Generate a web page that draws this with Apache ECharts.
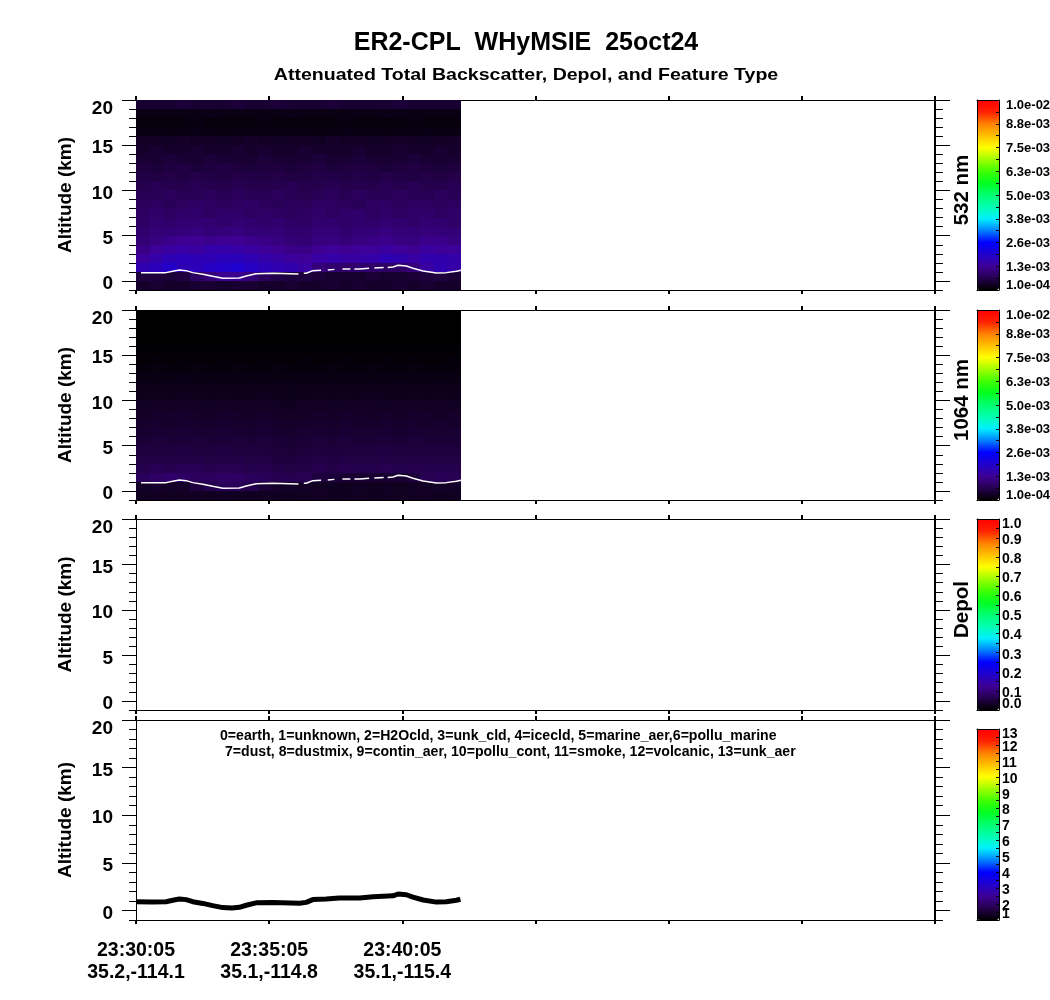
<!DOCTYPE html>
<html><head><meta charset="utf-8">
<style>html,body{margin:0;padding:0;background:#fff}#c{width:1050px;height:1000px}</style>
<script src="https://cdn.jsdelivr.net/npm/echarts@6/dist/echarts.min.js"></script>
</head><body><div id="c"></div>
<script>
// ---- Attenuated backscatter, block averages (units of 1e-4), 24 time columns, top row first
const b532_19_20=[5,5,5,5.5,5,5,5,5.5,5,5,5.5,5,5,5,5.5,5,5,5,5,5.5,5,5,5,5];
const b532_18_19=[2.6,2.6,2.5,2.6,2.5,2.8,2.6,2.5,2.6,2.5,2.6,2.8,2.5,2.6,2.5,2.6,2.5,2.6,2.8,2.5,2.6,2.5,2.6,2.5];
const b532_17_18=[2,2,2,2,2.3,2,2,2,2,2.3,2,2,2,2,2,2.3,2,2,2,2,2.3,2,2,2];
const b532_16_17=[2.6,2.6,2.4,2.6,2.7,2.6,2.4,2.6,2.6,2.7,2.6,2.6,2.6,2.4,2.6,2.7,2.6,2.6,2.4,2.6,2.6,2.7,2.6,2.6];
const b532_15_16=[3.8,3.8,3.6,4.2,3.8,3.8,3.6,3.8,4.2,3.8,3.6,3.8,3.8,3.6,4.2,3.8,3.8,3.6,3.8,4.2,3.8,3.6,3.8,4.2];
const b532_14_15=[4.5,5,4.5,4.5,5,4.5,4.5,5,4.5,5,4.5,4.5,5,4.5,4.5,4.5,5,4.5,4.5,5,4.5,4.5,5,4.5];
const b532_13_14=[5,5,5.6,5,5,5.6,5,5,5,5.6,5,5,5,5.6,5,5,5.6,5,5,5,5.6,5,5,5];
const b532_12_13=[6,5.6,6,6.2,5.6,6,6.2,6,5.6,6,6,5.6,6,6.2,5.6,6,6.2,6,5.6,6,6.2,6,5.6,6];
const b532_11_12=[6.6,6.2,6.8,6.2,6.8,6.6,6.2,6.8,6.6,6.2,6.8,6.2,6.2,6.8,6.6,6.2,6.8,6.2,6.8,6.6,6.2,6.8,6.2,6.8];
const b532_10_11=[7,7.6,7,7,7.6,7,7,7.6,7,7,7,7.6,7,7,7.6,7,7,7,7.6,7,7.6,7,7,7.6];
const b532_9_10=[7.6,7.8,8.4,7.6,7.8,8.4,7.6,8.4,7.8,7.6,8.4,7.6,7.4,7.8,8.4,7.6,8.4,7.8,7.6,8.4,7.8,7.6,8.4,7.8];
const b532_8_9=[8.4,8.6,8,8.6,9.2,8.6,8.4,8.6,9.2,8.4,8,8.4,8.2,9,8.6,8.4,8,8.6,9.2,8.4,8.6,8.6,8.4,8.6];
const b532_7_8=[8.8,9.4,8.8,9.6,9.6,8.8,9.4,9.6,8.8,9.4,8.8,8.4,8.8,9.4,8.8,9.4,9.6,8.8,9.4,8.8,9.4,9.6,8.8,9.4];
const b532_6_7=[9.2,10,9.6,10.2,10.2,10.2,9.6,10.2,10,9.4,10,9.2,9.2,10,10,9.4,10,9.6,10.2,10,9.4,10.2,10,9.4];
const b532_5_6=[9.8,10.6,10.8,11,11.4,10.8,11,11.4,10.8,10.6,10.6,9.8,9.8,10.6,10.8,10,10.6,10.8,11.4,10.6,10.8,11,10.8,10.6];
const b532_4_5=[10.6,11.4,12.4,13,13,12.4,13,13,12.4,12,11.4,10.6,10.4,11.4,11.4,10.6,11.4,12,12.4,11.6,11.4,12.4,12.4,11.6];
const b532_3_4=[12,13.6,14.4,15,14.4,15.6,15.6,15,14.4,13.6,13,12,11.8,13,13.6,13,13.6,13.6,14.4,13.6,13,14.4,13.6,13.6];
const b532_2_3=[14,15.4,16.8,17.4,16.8,16.8,17.4,17.4,16.8,15.4,14.8,14,13.6,14.8,15.4,14.8,14.8,15.4,16.8,16,14.8,16,16,15.4];
const b532_1_2=[16.4,17.6,19,16.6,17,18.4,19,19.6,18.4,17,16.4,16,14.6,11,10,9.4,10,9.4,9,9.4,11,14.6,16.4,15.2];
const b532_0_1=[6,6,5.4,6,9,11,12.6,12.6,11,8.4,6.6,6,6,5.4,4.6,4.6,4.6,5.4,4.6,4.6,5.4,6,6,5.4];
const b532_m1_0=[4.4,5,4.4,4.4,5,5,4.4,5,5,4.4,4.4,5,4.4,4.4,5,4.4,5,4.4,4.4,5,4.4,5,4.4,4.4];
const rows532=[b532_m1_0,b532_0_1,b532_1_2,b532_2_3,b532_3_4,b532_4_5,b532_5_6,b532_6_7,b532_7_8,b532_8_9,b532_9_10,b532_10_11,b532_11_12,b532_12_13,b532_13_14,b532_14_15,b532_15_16,b532_16_17,b532_17_18,b532_18_19,b532_19_20];

const b1064_19_20=[1,1,1,1,1,1,1,1,1,1,1,1,1,1,1,1,1,1,1,1,1,1,1,1];
const b1064_18_19=[1,1,1,1,1,1,1,1,1,1,1,1,1,1,1,1,1,1,1,1,1,1,1,1];
const b1064_17_18=[1,1,1,1,1,1,1,1,1,1,1,1,1,1,1,1,1,1,1,1,1,1,1,1];
const b1064_16_17=[1,1,1,1,1,1,1,1,1,1,1,1,1,1,1,1,1,1,1,1,1,1,1,1];
const b1064_15_16=[1.3,1.3,1.4,1.3,1.3,1.4,1.3,1.3,1.3,1.4,1.3,1.3,1.3,1.3,1.4,1.3,1.3,1.3,1.4,1.3,1.3,1.3,1.4,1.3];
const b1064_14_15=[1.6,1.7,1.6,1.7,1.6,1.6,1.7,1.6,1.6,1.7,1.6,1.6,1.7,1.6,1.6,1.7,1.6,1.6,1.7,1.6,1.7,1.6,1.6,1.7];
const b1064_13_14=[2,2.2,2,2,2.2,2,2,2.2,2,2,2.2,2,2,2,2.2,2,2,2.2,2,2,2.2,2,2,2];
const b1064_12_13=[2.4,2.6,2.4,2.7,2.5,2.4,2.6,2.5,2.4,2.6,2.4,2.4,2.5,2.6,2.4,2.5,2.6,2.4,2.5,2.4,2.6,2.5,2.4,2.6];
const b1064_11_12=[2.8,3,2.8,3,3,2.8,3,2.9,2.8,3,2.8,2.8,3,2.8,2.9,3,2.8,3,2.9,2.8,3,3,2.8,3];
const b1064_10_11=[3.2,3.4,3.3,3.5,3.4,3.2,3.4,3.3,3.3,3.5,3.2,3.1,3.3,3.4,3.2,3.4,3.3,3.5,3.3,3.2,3.4,3.3,3.4,3.2];
const b1064_9_10=[3.6,3.9,3.7,3.9,3.8,3.6,3.9,3.7,3.7,3.9,3.6,3.5,3.8,3.7,3.6,3.8,3.9,3.7,3.6,3.8,3.9,3.7,3.8,3.6];
const b1064_8_9=[4,4.3,4.2,4.4,4.2,4,4.3,4.2,4,4.3,4,3.9,4.1,4.2,4,4.3,4.2,4,4.3,4.1,4.3,4.2,4,4.2];
const b1064_7_8=[4.4,4.7,4.5,4.8,4.6,4.5,4.7,4.6,4.4,4.7,4.4,4.2,4.5,4.6,4.4,4.7,4.5,4.4,4.7,4.5,4.7,4.5,4.6,4.4];
const b1064_6_7=[4.8,5.1,5,5.2,5,4.9,5.2,5,4.8,5.1,4.8,4.6,4.9,5,4.8,5.1,4.9,5,5.1,4.8,5.1,5,4.9,5];
const b1064_5_6=[5.3,5.5,5.4,5.6,5.5,5.3,5.6,5.5,5.3,5.5,5.2,5,5.3,5.5,5.2,5.5,5.4,5.3,5.6,5.3,5.5,5.4,5.4,5.3];
const b1064_4_5=[5.8,6,5.9,6.1,6,5.8,6.1,6,5.8,6,5.6,5.4,5.7,6,5.7,6,5.9,5.8,6.1,5.8,6,5.9,5.9,5.8];
const b1064_3_4=[6.3,6.6,6.5,6.8,6.6,6.4,6.8,6.6,6.3,6.5,6,5.8,6.2,6.5,6.2,6.6,6.4,6.3,6.7,6.3,6.5,6.5,6.4,6.3];
const b1064_2_3=[7,7.6,7.3,7.8,7.6,7.2,7.7,7.5,7,7.2,6.6,6.3,6.8,7.2,6.8,7.3,7,7,7.5,7,7.2,7.1,7,7];
const b1064_1_2=[8.5,9,9.5,9,8.5,8.5,9,9,8.5,8,7.5,7.5,7.5,6,5.5,5,5,5,5,5,5.5,7.5,8,7.5];
const b1064_0_1=[4,4.3,4,4.2,6,7,8,8,7,5.5,4.5,4,4,3.8,3.6,3.5,3.6,3.5,3.6,3.5,3.8,4,4,4];
const b1064_m1_0=[3.6,3.8,3.6,3.7,3.8,3.6,3.8,3.6,3.6,3.7,3.6,3.5,3.6,3.8,3.5,3.6,3.7,3.5,3.6,3.7,3.6,3.8,3.5,3.6];
const rows1064=[b1064_m1_0,b1064_0_1,b1064_1_2,b1064_2_3,b1064_3_4,b1064_4_5,b1064_5_6,b1064_6_7,b1064_7_8,b1064_8_9,b1064_9_10,b1064_10_11,b1064_11_12,b1064_12_13,b1064_13_14,b1064_14_15,b1064_15_16,b1064_16_17,b1064_17_18,b1064_18_19,b1064_19_20];

// ---- Surface returns (minutes after 23:30:05, km)
const whiteMinutes=[0.19,1.13,1.38,1.63,1.88,2.13,2.51,2.88,3.26,3.88,4.14,4.51,5.14,6.1,6.1,6.3,6.39,6.64,6.95,7.0,7.2,7.45,7.5,7.75,8.05,8.1,8.2,8.4,8.75,8.8,8.95,9.3,9.35,9.45,9.65,9.84,10.15,10.4,10.78,11.28,11.65,12.03,12.2];
const whiteKm=[0.92,0.92,1.07,1.2,1.14,0.92,0.74,0.51,0.3,0.33,0.55,0.8,0.85,0.77,null,0.85,0.85,1.14,1.18,null,1.2,1.28,null,1.32,1.32,null,1.32,1.32,1.4,null,1.43,1.49,null,1.5,1.54,1.73,1.65,1.4,1.1,0.88,0.92,1.07,1.18];
const featureMinutes=[0,0.6,1.13,1.38,1.63,1.88,2.13,2.51,2.88,3.26,3.6,3.88,4.14,4.51,5.14,6.14,6.39,6.64,7.14,7.64,8.4,8.9,9.65,9.84,10.15,10.4,10.78,11.28,11.65,12.03,12.18];
const featureKm=[0.92,0.9,0.92,1.07,1.2,1.14,0.92,0.74,0.51,0.3,0.25,0.33,0.55,0.8,0.85,0.77,0.85,1.14,1.2,1.32,1.32,1.43,1.54,1.73,1.65,1.4,1.1,0.88,0.92,1.07,1.18];

// ---- Axes and labels
const timeLabels=['23:30:05\n35.2,-114.1','23:35:05\n35.1,-114.8','23:40:05\n35.1,-115.4'];
const timeTickValues=[0,5,10];
const altitudeTicks=[0,5,10,15];
const labels532=['1.0e-04','1.3e-03','2.6e-03','3.8e-03','5.0e-03','6.3e-03','7.5e-03','8.8e-03','1.0e-02'];
const labelsDepol=['0.0','0.1','0.2','0.3','0.4','0.5','0.6','0.7','0.8','0.9','1.0'];
const labelsFeature=['1','2','3','4','5','6','7','8','9','10','11','12','13'];
const rainbow=['#000000','#26004e','#3e0096','#2000cc','#0000ff','#0080ff','#00f0ff','#00ffb0','#00ff70','#00ff20','#40ff00','#a0ff00','#ffff00','#ffc000','#ff8000','#ff2000','#ff0000'];
const legendLine1='0=earth, 1=unknown, 2=H2Ocld, 3=unk_cld, 4=icecld, 5=marine_aer,6=pollu_marine';
const legendLine2='7=dust, 8=dustmix, 9=contin_aer, 10=pollu_cont, 11=smoke, 12=volcanic, 13=unk_aer';

const FONT='"Liberation Sans", Arial, sans-serif';
const panels=[
 {top:100,h:190,side:'532 nm',rows:rows532,barTop:100,barH:190,min:0.0001,max:0.01,labels:labels532,labelSize:13,endMargin:7,labelMargin:7,endHeight:10,shift:1,ticks:16,labelEvery:2},
 {top:310,h:190,side:'1064 nm',rows:rows1064,barTop:310,barH:190,min:0.0001,max:0.01,labels:labels532,labelSize:13,endMargin:7,labelMargin:7,endHeight:10,shift:1,ticks:16,labelEvery:2},
 {top:519,h:191,side:'Depol',rows:null,barTop:519,barH:191,min:0,max:1,labels:labelsDepol,labelSize:14,endMargin:3,labelMargin:3,endHeight:11,shift:2,ticks:20,labelEvery:2},
 {top:720,h:200,side:'',rows:null,barTop:729,barH:191,min:1,max:13,labels:labelsFeature,labelSize:14,endMargin:3,labelMargin:3,endHeight:11,shift:2,ticks:24,labelEvery:2,feature:true}
];
const L=136,W=799,UNIT=1e-4,END=12.2,COLS=24;
const grid=[],xAxis=[],yAxis=[],series=[],visualMap=[];
const blackLine={lineStyle:{color:'#000',width:1}};
const tickFont={fontFamily:FONT,fontWeight:'bold',fontSize:19,color:'#000'};

panels.forEach((p,i)=>{
  const g=grid.length, rect={left:L,top:p.top,width:W,height:p.h,containLabel:false,outerBoundsMode:'none'};
  grid.push(rect,{...rect});
  const xa=xAxis.length, ya=yAxis.length;
  const isLast=i===panels.length-1;
  xAxis.push({gridIndex:g,type:'value',position:'bottom',min:0,max:30,interval:5,splitLine:{show:false},
    axisLine:{show:true,onZero:false,...blackLine},axisTick:{show:true,length:4,lineStyle:{color:'#000',width:2}},
    axisLabel:isLast?{show:true,customValues:timeTickValues,formatter:(v)=>timeLabels[timeTickValues.indexOf(v)]||'',margin:20,lineHeight:22,fontFamily:FONT,fontWeight:'bold',fontSize:19.5,color:'#000'}:{show:false}});
  xAxis.push({gridIndex:g,type:'value',position:'top',min:0,max:30,interval:5,splitLine:{show:false},
    axisLine:{show:true,onZero:false,...blackLine},axisTick:{show:true,length:4,lineStyle:{color:'#000',width:2}},axisLabel:{show:false}});
  yAxis.push({gridIndex:g,type:'value',position:'left',min:-1,max:20,splitLine:{show:false},
    name:'Altitude (km)',nameLocation:'middle',nameGap:61,nameRotate:90,nameTextStyle:{fontFamily:FONT,fontWeight:'bold',fontSize:19,color:'#000'},
    axisLine:{show:true,onZero:false,...blackLine},
    axisTick:{show:true,length:14,customValues:altitudeTicks.concat(20),lineStyle:{color:'#000',width:1}},
    axisLabel:{show:true,customValues:altitudeTicks,margin:23,verticalAlign:'top',lineHeight:6,...tickFont}});
  yAxis.push({gridIndex:g,type:'value',position:'right',min:-1,max:20,splitLine:{show:false},
    name:p.side,nameLocation:'middle',nameGap:17,nameRotate:90,nameTextStyle:{fontFamily:FONT,fontWeight:'bold',fontSize:20.5,color:'#000',padding:[0,0,0,10]},
    axisLine:{show:true,onZero:false,lineStyle:{color:'#000',width:2}},
    axisTick:{show:true,length:15,customValues:altitudeTicks.concat(20),lineStyle:{color:'#000',width:1}},axisLabel:{show:false}});
  xAxis.push({gridIndex:g+1,type:'value',min:0,max:30,show:false,splitLine:{show:false}});
  yAxis.push({gridIndex:g+1,type:'value',position:'left',min:-1,max:20,interval:1,splitLine:{show:false},
    axisLine:{show:false,onZero:false},axisTick:{show:true,length:7,lineStyle:{color:'#000',width:1}},
    axisLabel:{show:true,customValues:[20],verticalAlign:'top',lineHeight:18,margin:23,...tickFont}});
  yAxis.push({gridIndex:g+1,type:'value',position:'right',min:-1,max:20,interval:1,splitLine:{show:false},
    axisLine:{show:false,onZero:false},axisTick:{show:true,length:8,lineStyle:{color:'#000',width:1}},axisLabel:{show:false}});

  const cells=[];
  if(p.rows){p.rows.forEach((row,r)=>row.forEach((v,c)=>{
    cells.push([c*END/COLS,(c+1)*END/COLS,-1+r,r,v*UNIT]);
  }));}
  const si=series.length;
  series.push({type:'custom',xAxisIndex:xa,yAxisIndex:ya,silent:true,clip:true,z:1,
    encode:{x:[0,1],y:[2,3]},data:cells,
    renderItem:(params,api)=>{
      const a=api.coord([api.value(0),api.value(3)]),b=api.coord([api.value(1),api.value(2)]);
      const x0=Math.round(a[0]),y0=Math.round(a[1]),x1=Math.round(b[0]),y1=Math.round(b[1]);
      return {type:'rect',shape:{x:x0,y:y0,width:x1-x0,height:y1-y0},style:{fill:api.visual('color')}};
    }});
  if(p.rows){
    series.push({type:'line',xAxisIndex:xa,yAxisIndex:ya,silent:true,z:3,symbol:'none',connectNulls:false,
      lineStyle:{color:'#fff',width:1.5},data:whiteMinutes.map((m,k)=>[m,whiteKm[k]])});
  }
  if(p.feature){
    series.push({type:'line',xAxisIndex:xa,yAxisIndex:ya,silent:true,z:3,symbol:'none',
      lineStyle:{color:'#000',width:5},data:featureMinutes.map((m,k)=>[m,featureKm[k]])});
  }
  visualMap.push({type:'continuous',show:true,seriesIndex:si,dimension:4,min:p.min,max:p.max,left:977,top:p.barTop,
    itemWidth:22,itemHeight:p.barH,padding:0,text:null,calculable:false,hoverLink:false,showLabel:false,inRange:{color:rainbow},orient:'vertical',z:4,textStyle:{fontSize:0}});
  const cb=grid.length;
  grid.push({left:977,top:p.barTop,width:22,height:p.barH,outerBoundsMode:'none'});
  const step=(p.max-p.min)/p.ticks;
  const tickVals=[];for(let k=0;k<=p.ticks;k++)tickVals.push(p.min+k*step);
  const labelVals=p.labels.map((_,k)=>p.min+k*p.labelEvery*step);
  const labelAt=(v)=>{let b=0,bd=1e9;labelVals.forEach((q,k)=>{const d=Math.abs(q-v);if(d<bd){bd=d;b=k;}});return p.labels[b];};
  const cbFont={fontFamily:FONT,fontWeight:'bold',fontSize:p.labelSize,color:'#000'};
  xAxis.push({gridIndex:cb,type:'value',min:0,max:1,position:'bottom',z:6,splitLine:{show:false},axisLine:{show:true,onZero:false,...blackLine},axisTick:{show:false},axisLabel:{show:false}});
  xAxis.push({gridIndex:cb,type:'value',min:0,max:1,position:'top',z:6,splitLine:{show:false},axisLine:{show:true,onZero:false,...blackLine},axisTick:{show:false},axisLabel:{show:false}});
  yAxis.push({gridIndex:cb,type:'value',position:'left',min:p.min,max:p.max,z:6,splitLine:{show:false},axisLine:{show:true,onZero:false,...blackLine},axisTick:{show:false},
    axisLabel:{show:true,inside:true,align:'left',customValues:[p.min,p.max],formatter:labelAt,margin:22+p.endMargin,lineHeight:p.endHeight,showMinLabel:true,showMaxLabel:true,hideOverlap:false,verticalAlignMinLabel:'bottom',verticalAlignMaxLabel:'top',...cbFont}});
  yAxis.push({gridIndex:cb,type:'value',position:'right',min:p.min,max:p.max,z:6,splitLine:{show:false},
    axisLine:{show:true,onZero:false,...blackLine},
    axisTick:{show:true,inside:true,length:3,customValues:tickVals,lineStyle:{color:'#000',width:1}},
    axisLabel:{show:true,inside:false,customValues:labelVals.slice(1,-1),formatter:labelAt,margin:p.labelMargin,showMinLabel:true,showMaxLabel:true,verticalAlign:'top',lineHeight:p.shift*2,...cbFont}});
});

const chart=echarts.init(document.getElementById('c'),null,{renderer:'canvas',width:1050,height:1000});
chart.setOption({animation:false,backgroundColor:'#fff',
  graphic:[
    {type:'text',z:20,x:526,y:43,scaleX:1,style:{text:'ER2-CPL  WHyMSIE  25oct24',textAlign:'center',textVerticalAlign:'middle',fontFamily:FONT,fontWeight:'bold',fontSize:25,fill:'#000'}},
    {type:'text',z:20,x:526,y:75,scaleX:1.15,style:{text:'Attenuated Total Backscatter, Depol, and Feature Type',textAlign:'center',textVerticalAlign:'middle',fontFamily:FONT,fontWeight:'bold',fontSize:17,fill:'#000'}},
    {type:'text',z:20,left:220,top:729,style:{text:legendLine1,fontFamily:FONT,fontWeight:'bold',fontSize:14.1,fill:'#000'}},
    {type:'text',z:20,left:225,top:745,style:{text:legendLine2,fontFamily:FONT,fontWeight:'bold',fontSize:14.1,fill:'#000'}}
  ],
  tooltip:{show:false},grid,xAxis,yAxis,series,visualMap});
</script></body></html>
